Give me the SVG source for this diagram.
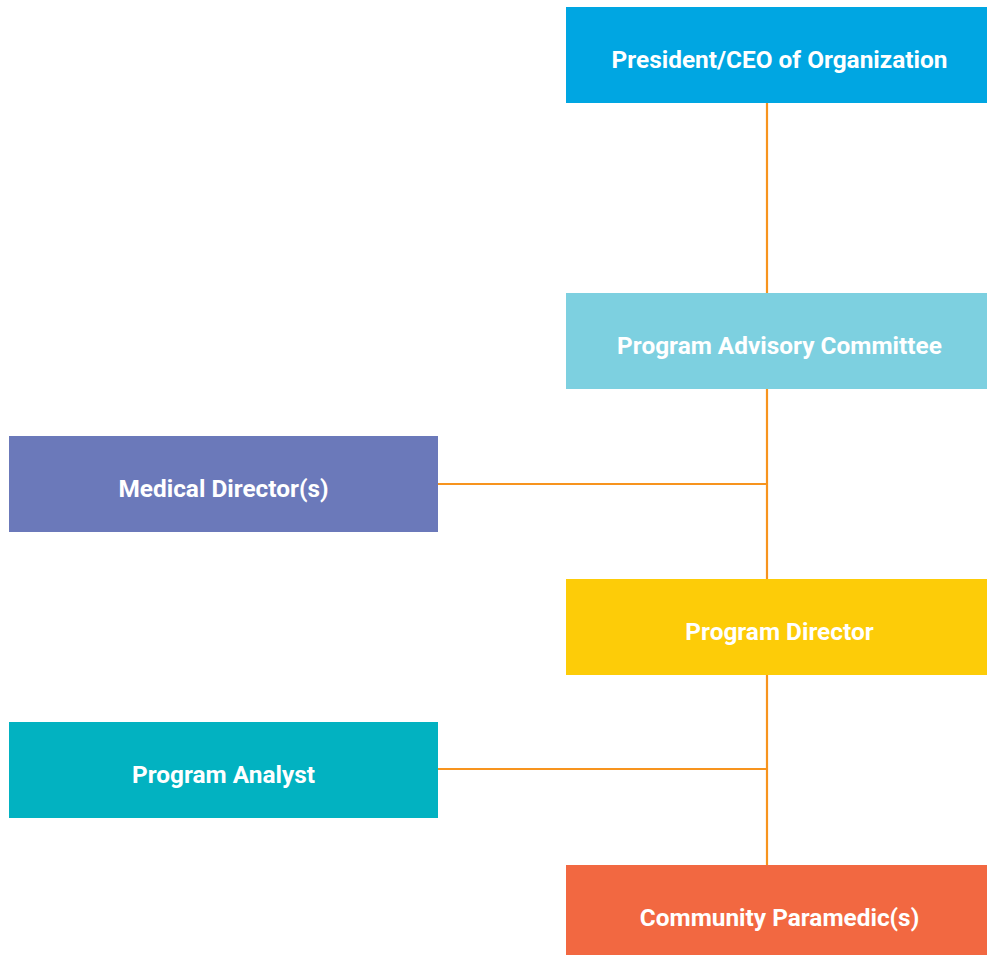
<svg xmlns="http://www.w3.org/2000/svg" width="987" height="955" viewBox="0 0 987 955">
<style>
.lbl{font-family:Roboto,"Liberation Sans",sans-serif;font-weight:700;font-size:24.4px;fill:#ffffff;text-anchor:middle}
.ln{stroke:#F7941E;stroke-width:2.2;fill:none}
</style>
<rect width="987" height="955" fill="#ffffff"/>
<g id="connectors">
<line class="ln" x1="767" y1="103" x2="767" y2="865"/>
<line class="ln" x1="438" y1="484" x2="767" y2="484"/>
<line class="ln" x1="438" y1="769" x2="767" y2="769"/>
</g>
<g id="ceo">
<rect x="566" y="7" width="421" height="96" fill="#00A6E2"/>
<text class="lbl" x="779.5" y="67.8">President/CEO of Organization</text>
</g>
<g id="advisory">
<rect x="566" y="293" width="421" height="96" fill="#7DD0E0"/>
<text class="lbl" x="779.5" y="353.8">Program Advisory Committee</text>
</g>
<g id="medical">
<rect x="9" y="436" width="429" height="96" fill="#6B79BA"/>
<text class="lbl" x="223.5" y="496.8">Medical Director(s)</text>
</g>
<g id="director">
<rect x="566" y="579" width="421" height="96" fill="#FDCC08"/>
<text class="lbl" x="779.5" y="639.8">Program Director</text>
</g>
<g id="analyst">
<rect x="9" y="722" width="429" height="96" fill="#02B2C1"/>
<text class="lbl" x="223.5" y="782.8">Program Analyst</text>
</g>
<g id="paramedic">
<rect x="566" y="865" width="421" height="90" fill="#F26841"/>
<text class="lbl" x="779.5" y="925.8">Community Paramedic(s)</text>
</g>
</svg>
